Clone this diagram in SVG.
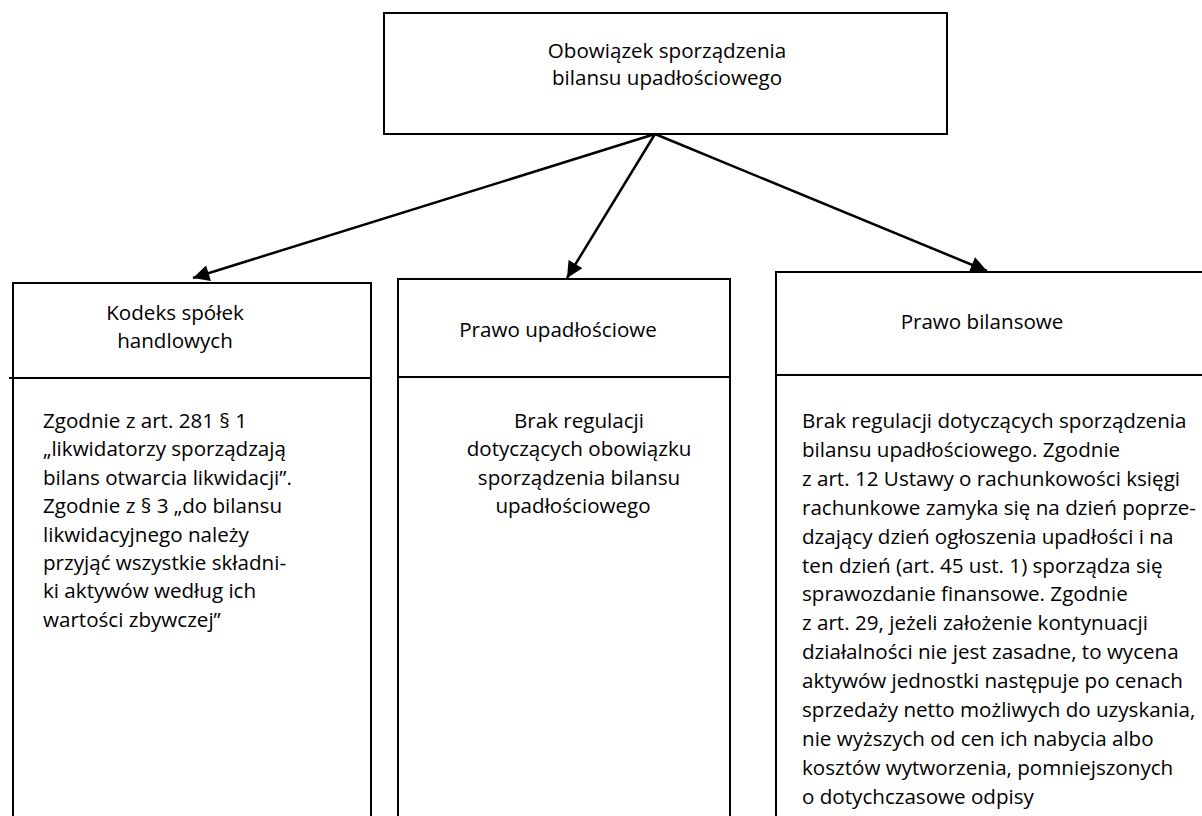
<svg xmlns="http://www.w3.org/2000/svg" width="1202" height="816" viewBox="0 0 1202 816">
<defs>
<style>
.box{fill:#fff;stroke:#000;stroke-width:2}
.div{stroke:#000;stroke-width:2}
.t{font-family:"Open Sans","Noto Sans",sans-serif;font-size:20.6px;fill:#000}
.c{text-anchor:middle}
.con{stroke:#000;stroke-width:2.5;fill:none;marker-end:url(#ah)}
</style>
<marker id="ah" viewBox="0 0 10 10" refX="10" refY="5" markerWidth="7.5" markerHeight="6.5" markerUnits="strokeWidth" orient="auto">
<path d="M0,0 L10,5 L0,10 z" fill="#000"/>
</marker>
</defs>
<rect width="1202" height="816" fill="#fff"/>
<g id="root">
<rect class="box" x="384" y="13" width="563" height="121"/>
<text class="t c" x="667" y="58">Obowiązek sporządzenia</text>
<text class="t c" x="667" y="85">bilansu upadłościowego</text>
</g>
<g id="ksh">
<rect class="box" x="13" y="283" width="358" height="560"/>
<line class="div" x1="9" y1="378" x2="371" y2="378"/>
<text class="t c" x="175" y="320">Kodeks spółek</text>
<text class="t c" x="175" y="348">handlowych</text>
<text class="t" x="43" y="428">Zgodnie z art. 281 § 1</text>
<text class="t" x="43" y="456.4">„likwidatorzy sporządzają</text>
<text class="t" x="43" y="484.8">bilans otwarcia likwidacji”.</text>
<text class="t" x="43" y="513.2">Zgodnie z § 3 „do bilansu</text>
<text class="t" x="43" y="541.6">likwidacyjnego należy</text>
<text class="t" x="43" y="570">przyjąć wszystkie składni-</text>
<text class="t" x="43" y="598.4">ki aktywów według ich</text>
<text class="t" x="43" y="626.8">wartości zbywczej”</text>
</g>
<g id="pu">
<rect class="box" x="398" y="279" width="332" height="560"/>
<line class="div" x1="398" y1="377" x2="730" y2="377"/>
<text class="t c" x="558" y="337">Prawo upadłościowe</text>
<text class="t c" x="579" y="428">Brak regulacji</text>
<text class="t c" x="579" y="456.4">dotyczących obowiązku</text>
<text class="t c" x="579" y="484.8">sporządzenia bilansu</text>
<text class="t c" x="573" y="513.2">upadłościowego</text>
</g>
<g id="pb">
<rect class="box" x="776" y="272" width="440" height="570"/>
<line class="div" x1="776" y1="375" x2="1202" y2="375"/>
<text class="t c" x="982" y="329">Prawo bilansowe</text>
<text class="t" x="802" y="428">Brak regulacji dotyczących sporządzenia</text>
<text class="t" x="802" y="456.9">bilansu upadłościowego. Zgodnie</text>
<text class="t" x="802" y="485.8">z art. 12 Ustawy o rachunkowości księgi</text>
<text class="t" x="802" y="514.7">rachunkowe zamyka się na dzień poprze-</text>
<text class="t" x="802" y="543.6">dzający dzień ogłoszenia upadłości i na</text>
<text class="t" x="802" y="572.5">ten dzień (art. 45 ust. 1) sporządza się</text>
<text class="t" x="802" y="601.4">sprawozdanie finansowe. Zgodnie</text>
<text class="t" x="802" y="630.3">z art. 29, jeżeli założenie kontynuacji</text>
<text class="t" x="802" y="659.2">działalności nie jest zasadne, to wycena</text>
<text class="t" x="802" y="688.1">aktywów jednostki następuje po cenach</text>
<text class="t" x="802" y="717">sprzedaży netto możliwych do uzyskania,</text>
<text class="t" x="802" y="745.9">nie wyższych od cen ich nabycia albo</text>
<text class="t" x="802" y="774.8">kosztów wytworzenia, pomniejszonych</text>
<text class="t" x="802" y="803.7">o dotychczasowe odpisy</text>
</g>
<g id="connectors">
<line class="con" x1="655" y1="134" x2="193" y2="278"/>
<line class="con" x1="655" y1="134" x2="567" y2="278"/>
<line class="con" x1="655" y1="134" x2="987" y2="271"/>
</g>
</svg>
